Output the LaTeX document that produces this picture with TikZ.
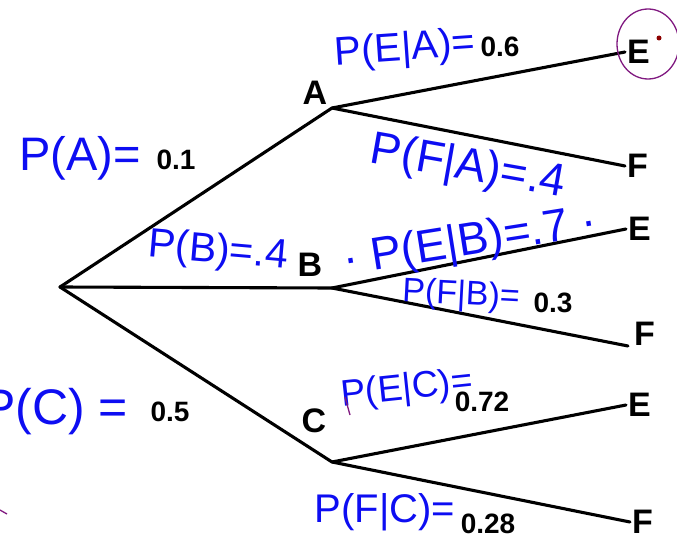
\documentclass[tikz,border=0pt]{standalone}
\usepackage{fontspec}
\setmainfont{Liberation Sans}
\usepackage{tikz}
\usetikzlibrary{positioning, calc}
\definecolor{pen}{rgb}{0.05,0.05,0.95}
\definecolor{marker}{rgb}{0.5,0.1,0.5}
\definecolor{dotred}{rgb}{0.55,0,0}

\begin{document}
\begin{tikzpicture}[x=1pt, y=-1pt,
    branch/.style={line width=3.1pt, line cap=round, line join=round},
    event/.style={font=\fontsize{34}{34}\selectfont\bfseries, inner sep=2pt},
    prob/.style={font=\fontsize{28}{28}\selectfont\bfseries, inner sep=0pt},
    ink/.style={text=pen, inner sep=0pt}]
    \useasboundingbox (0,0) rectangle (677,543);

    % Branch points
    \coordinate (root) at (60,287);
    \coordinate (a) at (332,108);
    \coordinate (b) at (332,288);
    \coordinate (c) at (332,462);
    \node[event] (A) at (315,93) {A};
    \node[event] (B) at (310,265) {B};
    \node[event] (C) at (314,421) {C};

    % Outcomes
    \node[event, anchor=west] (AE) at (625,52) {E};
    \node[event, anchor=west] (AF) at (625,166) {F};
    \node[event, anchor=west] (BE) at (626,229) {E};
    \node[event, anchor=west] (BF) at (632,334) {F};
    \node[event, anchor=west] (CE) at (626,405) {E};
    \node[event, anchor=west] (CF) at (630,522) {F};

    % Tree
    \foreach \x in {a, b, c}
        \draw[branch] (root) -- (\x);
    \draw[branch] (a) -- (AE.west);
    \draw[branch] (a) -- (AF.west);
    \draw[branch] (b) -- (BE.west);
    \draw[branch] (b) -- ($(BF.west)+(-4,12)$);
    \draw[branch] (c) -- (CE.west);
    \draw[branch] (c) -- (CF.west);

    % Printed probabilities
    \node[prob] (pa) at (176,160) {0.1};
    \node[prob] (pc) at (170,412) {0.5};
    \node[prob] (pea) at (500,47) {0.6};
    \node[prob] (pfb) at (553,303) {0.3};
    \node[prob] (pec) at (482,402) {0.72};
    \node[prob] (pfc) at (488,524) {0.28};

    % Handwritten notes
    \node[ink, font=\fontsize{47}{47}\selectfont] (na) at (80,158) {P(A)=};
    \node[ink, font=\fontsize{40}{40}\selectfont, rotate=4] (nea) at (405,50) {P(E|A)=};
    \node[ink, font=\fontsize{46}{46}\selectfont, rotate=-10] (nfa) at (468,168) {P(F|A)=.4};
    \node[ink, font=\fontsize{41}{41}\selectfont, rotate=-5] (nb) at (218,252) {P(B)=.4};
    \node[ink, font=\fontsize{46}{46}\selectfont, rotate=9] (neb) at (470,243) {· P(E|B)=.7 ·};
    \node[ink, font=\fontsize{34}{34}\selectfont, rotate=-3] (nfb) at (461,296) {P(F|B)=};
    \node[ink, font=\fontsize{50}{50}\selectfont] (nc) at (55,412) {P(C) =};
    \node[ink, font=\fontsize{37}{37}\selectfont, rotate=6] (nec) at (407,390) {P(E|C)=};
    \node[ink, font=\fontsize{40}{40}\selectfont] (nfc) at (385,512) {P(F|C)=};

    % Marks
    \draw[marker, line width=1.3pt] (648,44) ellipse (31 and 35);
    \fill[dotred] (659,38) circle (2.5);
    \draw[marker, line width=1.3pt] (0,510) -- (7,514);
    \draw[marker, line width=1.3pt] (345,397) -- (350,415);
\end{tikzpicture}
\end{document}
